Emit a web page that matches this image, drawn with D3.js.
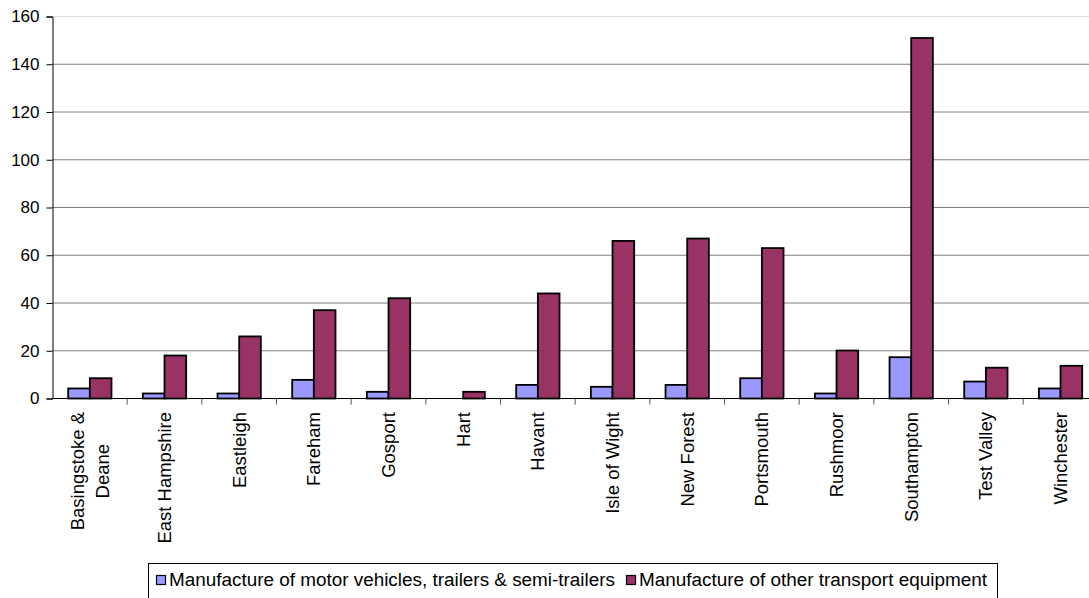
<!DOCTYPE html>
<html><head><meta charset="utf-8">
<script src="https://cdn.jsdelivr.net/npm/d3@7/dist/d3.min.js"></script>
<style>body{margin:0;background:#fff}svg{display:block;font-family:"Liberation Sans",Arial,sans-serif}</style>
</head><body><svg id="c" width="1089" height="598"></svg>
<script>
const categories = ["Basingstoke &\nDeane","East Hampshire","Eastleigh","Fareham","Gosport","Hart","Havant","Isle of Wight","New Forest","Portsmouth","Rushmoor","Southampton","Test Valley","Winchester"];
const seriesNames = ["Manufacture of motor vehicles, trailers & semi-trailers","Manufacture of other transport equipment"];
const motorVehicles = [4.2,2.1,2.1,7.8,2.8,0,5.7,4.9,5.7,8.5,2.1,17.3,7.1,4.2];
const otherTransport = [8.5,18,26,37,42,2.8,44,66,67,63,20.1,151,12.9,13.7];
const yTicks = [0,20,40,60,80,100,120,140,160];
const colors = ["#9999FF","#993366"];

const svg = d3.select("#c");
const x0 = 52.5, x1 = 52.5 + 14*74.67, yTop = 16.5, yBot = 398.5;
const x = d3.scaleBand().domain(categories).range([x0,x1]).padding(0);
const step = x.bandwidth();
const xs = d3.scaleBand().domain([0,1]).range([step*0.21, step*0.79]).padding(0);
const y = d3.scaleLinear().domain([0,160]).range([yBot,yTop]);

// gridlines
svg.append("g").selectAll("line").data(yTicks.filter(d=>d>0)).join("line")
  .attr("x1",x0).attr("x2",1089).attr("y1",d=>y(d)).attr("y2",d=>y(d))
  .attr("stroke",d=>d===160?"#dddddd":"#808080").attr("stroke-width",1);

// bars
const data = categories.map((c,i)=>({c, v:[motorVehicles[i], otherTransport[i]]}));
const g = svg.append("g");
data.forEach(d=>{
  d.v.forEach((v,k)=>{
    if(v<=0) return;
    g.append("rect").attr("x",x(d.c)+xs(k)).attr("width",xs.bandwidth())
      .attr("y",y(v)).attr("height",yBot-y(v))
      .attr("fill",colors[k]).attr("stroke","#000").attr("stroke-width",1.8);
  });
});

// y axis
const ya = d3.axisLeft(y).tickValues(yTicks).tickSize(6).tickPadding(7).tickFormat(d3.format("d"));
const yg = svg.append("g").attr("transform",`translate(${x0},0)`).call(ya);
yg.select(".domain").attr("stroke","#000");
yg.selectAll(".tick line").attr("stroke","#000");
yg.selectAll(".tick text").attr("font-size","17px").attr("fill","#000").attr("font-family","Liberation Sans, Arial, sans-serif");

// x axis
svg.append("line").attr("x1",x0).attr("x2",1089).attr("y1",yBot).attr("y2",yBot).attr("stroke","#000");
const xb = d3.range(1,14).map(i=>x0+i*step);
svg.append("g").selectAll("line").data(xb).join("line")
  .attr("x1",d=>d).attr("x2",d=>d).attr("y1",yBot).attr("y2",yBot+6).attr("stroke","#555");

// category labels
const lg = svg.append("g").attr("font-size","18.5px").attr("fill","#000");
categories.forEach(c=>{
  const lines = c.split("\n");
  const cx = x(c)+step/2;
  const lh = 25;
  const tmp = lines.map(l=>{const s=lg.append("text").text(l); const w=s.node().getComputedTextLength(); s.remove(); return w;});
  const maxW = d3.max(tmp);
  const cy = 412 + maxW/2;
  lines.forEach((l,i)=>{
    const off = (i-(lines.length-1)/2)*lh;
    lg.append("text").attr("text-anchor","middle")
      .attr("transform",`translate(${cx+off+6.5},${cy}) rotate(-90)`).text(l);
  });
});

// legend
const leg = svg.append("g");
leg.append("rect").attr("x",148.5).attr("y",563.5).attr("width",849).attr("height",40)
  .attr("fill","#fff").attr("stroke","#000");
const legendX = [156, 626];
const legendW = [446, 348];
seriesNames.forEach((n,k)=>{
  leg.append("rect").attr("x",legendX[k]+0.5).attr("y",575.5).attr("width",9).attr("height",9)
    .attr("fill",colors[k]).attr("stroke","#000").attr("stroke-width",1.2);
  leg.append("text").attr("x",legendX[k]+13).attr("y",586).attr("font-size","18px")
    .attr("textLength",legendW[k]).attr("lengthAdjust","spacingAndGlyphs").text(n);
});
</script></body></html>
